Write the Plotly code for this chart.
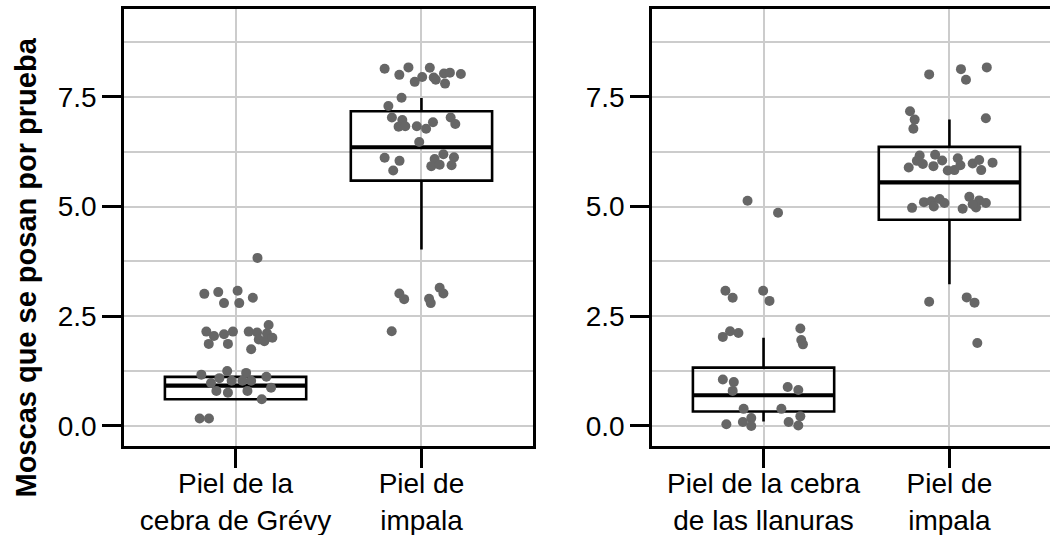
import plotly.graph_objects as go

# ---------------- data ----------------
left_categories = ["Piel de la<br>cebra de Grévy", "Piel de<br>impala"]
right_categories = ["Piel de la cebra<br>de las llanuras", "Piel de<br>impala"]
positions = [1, 2]

y_ticks = [0.0, 2.5, 5.0, 7.5]
y_tick_labels = ["0.0", "2.5", "5.0", "7.5"]

# box statistics
left_q1 = [0.61, 5.59]
left_median = [0.92, 6.35]
left_q3 = [1.12, 7.17]
left_lower = [0.61, 4.02]
left_upper = [1.12, 7.47]

right_q1 = [0.33, 4.70]
right_median = [0.70, 5.55]
right_q3 = [1.33, 6.36]
right_lower = [0.10, 3.23]
right_upper = [2.01, 6.98]

# jittered points: horizontal jitter offset and value
grevy_jitter = [0.118, -0.168, -0.093, 0.011, -0.062, 0.020, 0.093, 0.178, -0.157, -0.116,
                -0.062, -0.014, 0.071, 0.116, 0.169, -0.144, -0.041, 0.125, 0.155, 0.198,
                0.084, -0.184, -0.045, 0.057, 0.166, -0.132, -0.087, -0.021, 0.037, 0.084,
                0.191, -0.103, -0.041, 0.064, 0.141, -0.193, -0.143]
grevy_values = [3.83, 3.01, 3.05, 3.08, 2.80, 2.80, 2.92, 2.30, 2.15, 2.05,
                2.09, 2.15, 2.15, 2.13, 2.11, 1.87, 1.87, 1.97, 1.93, 2.01,
                1.75, 1.17, 1.25, 1.21, 1.12, 0.98, 1.09, 1.03, 1.03, 1.03,
                0.87, 0.80, 0.76, 0.80, 0.61, 0.17, 0.17]

impala1_jitter = [-0.198, -0.119, -0.070, 0.045, 0.004, -0.036, 0.066, 0.077, 0.121, 0.153,
                  0.212, 0.127, -0.107, -0.178, -0.159, -0.103, -0.123, -0.087, -0.025, 0.025,
                  0.062, 0.157, 0.182, -0.012, -0.198, -0.118, -0.152, 0.118, 0.175, 0.071,
                  0.053, 0.098, 0.162, -0.119, -0.093, 0.041, 0.050, 0.098, 0.118, -0.160]
impala1_values = [8.14, 8.00, 8.17, 8.16, 7.95, 7.84, 7.94, 7.89, 8.03, 8.05,
                  8.02, 7.80, 7.48, 7.29, 7.03, 6.97, 6.82, 6.83, 6.83, 6.77,
                  6.92, 7.03, 6.88, 6.47, 6.11, 6.04, 5.82, 6.19, 6.12, 6.08,
                  5.92, 5.95, 5.94, 3.02, 2.89, 2.90, 2.80, 3.15, 3.02, 2.16]

llanuras_jitter = [-0.086, 0.078, -0.205, -0.166, -0.002, 0.032, -0.219, -0.180, -0.135, 0.198,
                   0.203, 0.212, -0.219, -0.160, -0.166, 0.130, 0.187, -0.107, 0.096, 0.198,
                   -0.200, -0.111, -0.066, -0.066, 0.135, 0.187]
llanuras_values = [5.13, 4.86, 3.08, 2.92, 3.08, 2.85, 2.03, 2.16, 2.12, 2.22,
                   1.96, 1.86, 1.06, 1.00, 0.80, 0.89, 0.82, 0.39, 0.39, 0.22,
                   0.04, 0.09, 0.18, 0.00, 0.09, 0.01]

impala2_jitter = [-0.109, 0.062, 0.089, 0.201, -0.212, -0.187, -0.194, 0.196, -0.160, -0.077,
                  -0.039, 0.045, -0.175, -0.143, -0.086, -0.219, -0.009, 0.027, 0.059, 0.125,
                  0.160, 0.232, 0.171, -0.137, -0.098, -0.053, -0.027, 0.107, 0.160, 0.196,
                  -0.084, -0.201, 0.071, 0.143, 0.125, -0.109, 0.093, 0.135, 0.150]
impala2_values = [8.01, 8.13, 7.89, 8.17, 7.17, 6.98, 6.77, 7.01, 6.16, 6.18,
                  6.05, 6.10, 6.04, 5.97, 5.92, 5.89, 5.82, 5.83, 5.94, 5.98,
                  6.06, 6.00, 5.83, 5.10, 5.12, 5.17, 5.08, 5.22, 5.14, 5.08,
                  5.00, 4.97, 4.95, 4.98, 5.05, 2.83, 2.93, 2.81, 1.89]

y_title = "Moscas que se posan por prueba"

# ---------------- styling ----------------
W, H = 1050, 535
FONT = "Liberation Sans, Arial, sans-serif"
BOX_WIDTH = 0.76
POINT_COLOR = "#666666"
GRID = "#cccccc"

fig = go.Figure()


def add_panel(xa, ya, q1, med, q3, lo, hi, groups):
    fig.add_trace(go.Box(
        x=positions, q1=q1, median=med, q3=q3, lowerfence=lo, upperfence=hi,
        width=BOX_WIDTH, whiskerwidth=0, boxpoints=False,
        fillcolor="rgba(0,0,0,0)", line=dict(color="black", width=2.6),
        xaxis=xa, yaxis=ya, showlegend=False, hoverinfo="skip"))
    # thicker median bars
    for p, m in zip(positions, med):
        fig.add_trace(go.Scatter(
            x=[p - BOX_WIDTH / 2, p + BOX_WIDTH / 2], y=[m, m], mode="lines",
            line=dict(color="black", width=4.2), xaxis=xa, yaxis=ya,
            showlegend=False, hoverinfo="skip"))
    for p, (jit, vals) in zip(positions, groups):
        fig.add_trace(go.Scatter(
            x=[p + j for j in jit], y=vals, mode="markers",
            marker=dict(color=POINT_COLOR, size=10, line=dict(width=0)),
            xaxis=xa, yaxis=ya, showlegend=False, hoverinfo="skip"))


add_panel("x", "y", left_q1, left_median, left_q3, left_lower, left_upper,
          [(grevy_jitter, grevy_values), (impala1_jitter, impala1_values)])
add_panel("x2", "y2", right_q1, right_median, right_q3, right_lower, right_upper,
          [(llanuras_jitter, llanuras_values), (impala2_jitter, impala2_values)])

y_dom = [1 - 445.7 / H, 1 - 9 / H]
y_range = [-0.449, 9.50]

common_x = dict(showgrid=True, gridcolor=GRID, gridwidth=2.2, zeroline=False,
                showline=True, linecolor="black", linewidth=2.6, mirror=True,
                ticks="outside", ticklen=19, tickwidth=2.6, tickcolor="black",
                tickfont=dict(family=FONT, size=28, color="black"),
                ticklabelstandoff=-8,
                tickvals=positions, automargin=False)
common_y = dict(showgrid=True, gridcolor=GRID, gridwidth=2.2, zeroline=False,
                showline=True, linecolor="black", linewidth=2.6,
                ticks="outside", ticklen=19, tickwidth=2.6, tickcolor="black",
                tickfont=dict(family=FONT, size=28, color="black"),
                tickvals=y_ticks, ticktext=y_tick_labels,
                minor=dict(showgrid=True, gridcolor=GRID, gridwidth=2.2,
                           tickvals=[1.25, 3.75, 6.25, 8.75], ticks=""),
                range=y_range, domain=y_dom, automargin=False)

xa1 = dict(common_x); xa1.update(domain=[124 / W, 533 / W], range=[0.4, 2.6],
                                  ticktext=left_categories, anchor="y")
xa2 = dict(common_x); xa2.update(domain=[652 / W, 1.0], range=[0.4, 2.541],
                                  ticktext=right_categories, anchor="y2")
ya1 = dict(common_y); ya1.update(anchor="x", mirror=True)
ya2 = dict(common_y); ya2.update(anchor="x2", mirror=False)

fig.update_layout(
    width=W, height=H,
    margin=dict(l=0, r=0, t=0, b=0),
    paper_bgcolor="white", plot_bgcolor="white",
    boxmode="overlay",
    xaxis=xa1, xaxis2=xa2, yaxis=ya1, yaxis2=ya2,
    font=dict(family=FONT, color="black"),
    annotations=[dict(
        text="<b>" + y_title + "</b>", textangle=-90,
        x=25 / W, y=0.5, xref="paper", yref="paper",
        xanchor="center", yanchor="middle", showarrow=False,
        font=dict(family=FONT, size=29, color="black"))],
)

fig.write_html(
    "out.html",
    config={"displayModeBar": False},
    post_script="document.body.style.margin='0';document.body.style.padding='0';"
                "document.body.style.overflow='hidden';",
)
